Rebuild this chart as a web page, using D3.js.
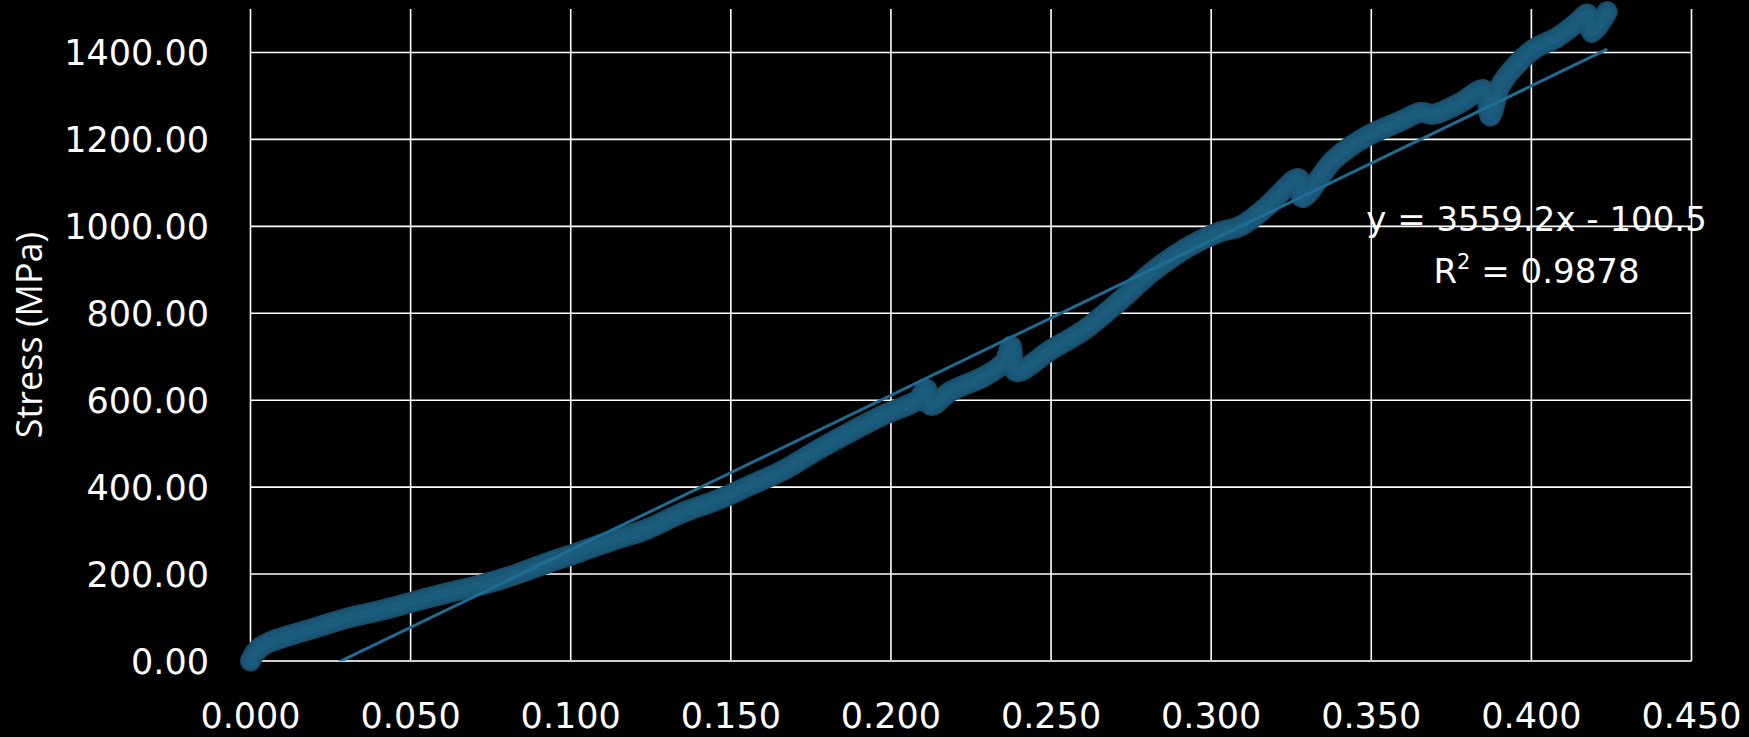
<!DOCTYPE html>
<html>
<head>
<meta charset="utf-8">
<script src="https://cdn.jsdelivr.net/npm/d3@7"></script>
<style>
  html, body { margin: 0; padding: 0; background: #000; }
  svg { display: block; }
  .tick-label { font-family: "DejaVu Sans", sans-serif; font-size: 35px; fill: #fff; }
  .eq-label { font-family: "DejaVu Sans", sans-serif; font-size: 34px; fill: #fff; }
  .axis-title { font-family: "Open Sans", sans-serif; font-size: 36px; fill: #fff; }
</style>
</head>
<body>
<svg id="chart"></svg>
<script>
// strain (-), in drawing order (unload dips included)
const strain = [
  0, 0.0015, 0.0034, 0.0065, 0.0097, 0.015, 0.020, 0.0305, 0.0409, 0.0512,
  0.0617, 0.072, 0.0824, 0.0929, 0.1033, 0.1136, 0.1241, 0.1345, 0.146, 0.1563,
  0.1667, 0.1772, 0.1876, 0.198, 0.2084, 0.211, 0.2125, 0.2187, 0.2292, 0.2354,
  0.2375, 0.239, 0.25, 0.2604, 0.2708, 0.2812, 0.2916, 0.302, 0.3093, 0.3176,
  0.3272, 0.3285, 0.3384, 0.3488, 0.3592, 0.3654, 0.3696, 0.378, 0.3852, 0.3872,
  0.3903, 0.3955, 0.4008, 0.4081, 0.4143, 0.4175, 0.419, 0.4237
]
// stress (MPa)
const stress = [
  0, 20, 33, 45, 53, 65, 76, 99, 117, 137,
  157, 175, 198, 226, 252, 279, 304, 340, 371, 405,
  440, 486, 528, 567, 601, 626, 588, 621, 655, 688,
  724, 666, 716, 762, 824, 893, 947, 985, 1001, 1047,
  1110, 1066, 1154, 1208, 1242, 1262, 1258, 1285, 1314, 1254,
  1323, 1373, 1408, 1435, 1469, 1488, 1446, 1494
]

// linear trendline as printed on the chart
const trend_slope = 3559.2
const trend_intercept = -100.5
const trend_lines = ["y = 3559.2x - 100.5", "R2 = 0.9878"]

const x_ticks = [0, 0.05, 0.1, 0.15, 0.2, 0.25, 0.3, 0.35, 0.4, 0.45]
const y_ticks = [0, 200, 400, 600, 800, 1000, 1200, 1400]
const x_domain = [0, 0.45]
const y_domain = [0, 1500]
const y_title = "Stress (MPa)"

const width = 1749
const height = 737
const plot = { left: 250.5, right: 1691.5, top: 9, bottom: 661 }

const svg = d3.select("#chart").attr("width", width).attr("height", height)
svg.append("rect").attr("width", width).attr("height", height).attr("fill", "#000")

const x = d3.scaleLinear().domain(x_domain).range([plot.left, plot.right])
const y = d3.scaleLinear().domain(y_domain).range([plot.bottom, plot.top])

svg.append("clipPath").attr("id", "plot-clip")
  .append("rect")
  .attr("x", plot.left).attr("y", plot.top)
  .attr("width", plot.right - plot.left).attr("height", plot.bottom - plot.top)

// equation label sits under the gridlines in the original
const eq = svg.append("text").attr("class", "eq-label").attr("text-anchor", "middle")
eq.append("tspan").attr("x", 1536.5).attr("y", 231).text(trend_lines[0])
const r2 = eq.append("tspan").attr("x", 1536.5).attr("y", 283)
r2.append("tspan").text("R")
r2.append("tspan").attr("font-size", "21px").attr("dy", -14).text("2")
r2.append("tspan").attr("dy", 14).text(trend_lines[1].slice(2))

// gridlines
svg.append("g")
  .selectAll("line")
  .data(x_ticks)
  .join("line")
  .attr("x1", d => x(d)).attr("x2", d => x(d))
  .attr("y1", plot.top).attr("y2", plot.bottom)
  .attr("stroke", "#fff")
  .attr("stroke-width", 1.6)

svg.append("g")
  .selectAll("line")
  .data(y_ticks)
  .join("line")
  .attr("x1", plot.left).attr("x2", plot.right)
  .attr("y1", d => y(d)).attr("y2", d => y(d))
  .attr("stroke", d => d == 0 ? "#d0d0d0" : "#fff")
  .attr("stroke-width", d => d == 0 ? 2.2 : 1.6)

// tick labels
svg.append("g")
  .selectAll("text")
  .data(y_ticks)
  .join("text")
  .attr("class", "tick-label")
  .attr("text-anchor", "end")
  .attr("x", 209)
  .attr("y", d => y(d) + 12.8)
  .text(d => d3.format(".2f")(d))

svg.append("g")
  .selectAll("text")
  .data(x_ticks)
  .join("text")
  .attr("class", "tick-label")
  .attr("text-anchor", "middle")
  .attr("x", d => x(d))
  .attr("y", 728)
  .text(d => d3.format(".3f")(d))

svg.append("text")
  .attr("class", "axis-title")
  .attr("text-anchor", "middle")
  .attr("transform", `translate(42, ${(plot.top + plot.bottom) / 2}) rotate(-90)`)
  .text(y_title)

// the data series: Excel draws it as a fat tube of overlapping markers
const points = strain.map((s, i) => [s, stress[i]])
const line = d3.line()
  .x(d => x(d[0]))
  .y(d => y(d[1]))
  .curve(d3.curveCatmullRom.alpha(0.5))

const series = svg.append("g")
const layers = [[21, "#164d69"], [17, "#1a5676"], [9, "#1c5c7d"]]
for (const [w, c] of layers) {
  series.append("path")
    .attr("d", line(points))
    .attr("fill", "none")
    .attr("stroke", c)
    .attr("stroke-width", w)
    .attr("stroke-linecap", "round")
    .attr("stroke-linejoin", "round")
}

// trendline over the data range, clipped to the plot
const x_ext = d3.extent(strain)
const trend = x_ext.map(s => [s, trend_slope * s + trend_intercept])
svg.append("path")
  .attr("clip-path", "url(#plot-clip)")
  .attr("d", d3.line().x(d => x(d[0])).y(d => y(d[1]))(trend))
  .attr("fill", "none")
  .attr("stroke", "#1e6c93")
  .attr("stroke-width", 3)
</script>
</body>
</html>
